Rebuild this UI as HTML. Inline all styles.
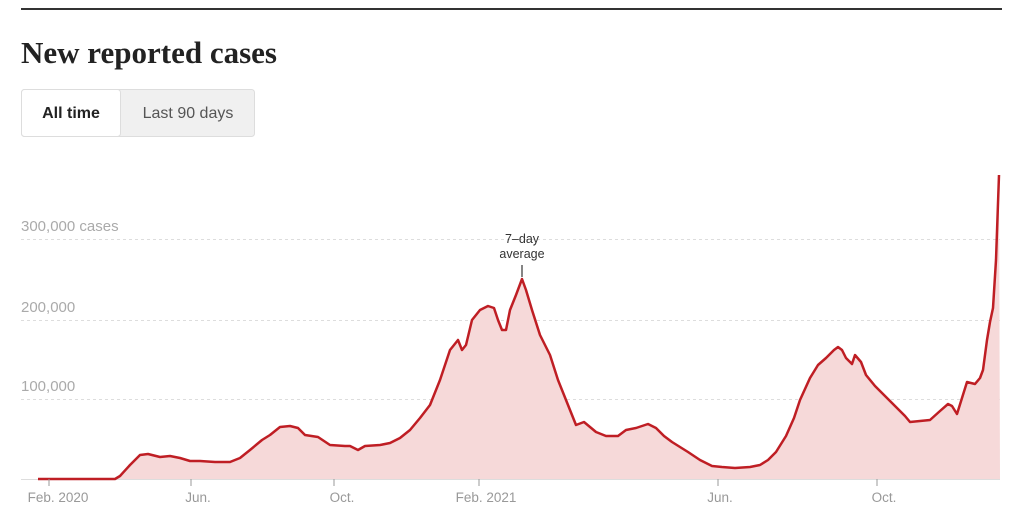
<!DOCTYPE html>
<html><head><meta charset="utf-8"><style>
body{margin:0;background:#fff;width:1024px;height:525px;overflow:hidden;font-family:"Liberation Sans",sans-serif}
</style></head><body>
<svg width="1024" height="525" xmlns="http://www.w3.org/2000/svg">
<rect x="21" y="8" width="981" height="2" fill="#333"/>
<text x="21" y="63" font-family="Liberation Serif,serif" font-weight="bold" font-size="31" fill="#222" textLength="256">New reported cases</text>
<rect x="21.5" y="89.5" width="233" height="47" rx="3" fill="#f0f0f0" stroke="#ddd"/>
<rect x="21.5" y="89.5" width="99" height="47" rx="3" fill="#fff" stroke="#ddd"/>
<text x="71" y="118" text-anchor="middle" font-size="16" font-weight="bold" fill="#222">All time</text>
<text x="188" y="118" text-anchor="middle" font-size="16" fill="#555">Last 90 days</text>
<g stroke="#ddd" stroke-dasharray="3,3" stroke-width="1">
<line x1="21" y1="239.5" x2="1000" y2="239.5"/>
<line x1="21" y1="320.5" x2="1000" y2="320.5"/>
<line x1="21" y1="399.5" x2="1000" y2="399.5"/>
</g>
<line x1="21" y1="479.5" x2="1000" y2="479.5" stroke="#ddd"/>
<g font-size="15" fill="#aaa">
<text x="21" y="231">300,000 cases</text>
<text x="21" y="312">200,000</text>
<text x="21" y="391">100,000</text>
</g>
<path d="M38,479 L115,479 L120,476 L130,465 L140,455 L148,454 L160,457 L170,456 L180,458 L190,461 L200,461 L215,462 L230,462 L240,458 L250,450 L262,440 L270,435 L280,427 L290,426 L298,428 L305,435 L318,437 L330,445 L345,446 L350,446 L358,450 L365,446 L380,445 L390,443 L400,438 L410,430 L420,418 L430,405 L440,380 L450,350 L458,340 L462,350 L466,345 L472,320 L480,310 L488,306 L494,308 L498,320 L502,330 L506,330 L510,310 L516,295 L522,279 L526,290 L532,310 L540,335 L550,355 L558,380 L566,400 L576,425 L584,422 L596,432 L606,436 L618,436 L626,430 L636,428 L648,424 L656,428 L664,436 L672,442 L688,452 L700,460 L712,466 L722,467 L735,468 L750,467 L760,465 L768,460 L776,452 L786,436 L794,418 L800,400 L810,378 L818,365 L826,358 L834,350 L838,347 L842,350 L846,358 L852,364 L855,355 L861,362 L866,375 L875,386 L885,396 L895,406 L905,416 L910,422 L920,421 L930,420 L940,411 L948,404 L952,406 L957,414 L962,398 L967,382 L975,384 L980,378 L983,370 L987,340 L990,322 L993,308 L996,260 L999,175 L1000,479 Z" fill="#f6d9d9"/>
<path d="M38,479 L115,479 L120,476 L130,465 L140,455 L148,454 L160,457 L170,456 L180,458 L190,461 L200,461 L215,462 L230,462 L240,458 L250,450 L262,440 L270,435 L280,427 L290,426 L298,428 L305,435 L318,437 L330,445 L345,446 L350,446 L358,450 L365,446 L380,445 L390,443 L400,438 L410,430 L420,418 L430,405 L440,380 L450,350 L458,340 L462,350 L466,345 L472,320 L480,310 L488,306 L494,308 L498,320 L502,330 L506,330 L510,310 L516,295 L522,279 L526,290 L532,310 L540,335 L550,355 L558,380 L566,400 L576,425 L584,422 L596,432 L606,436 L618,436 L626,430 L636,428 L648,424 L656,428 L664,436 L672,442 L688,452 L700,460 L712,466 L722,467 L735,468 L750,467 L760,465 L768,460 L776,452 L786,436 L794,418 L800,400 L810,378 L818,365 L826,358 L834,350 L838,347 L842,350 L846,358 L852,364 L855,355 L861,362 L866,375 L875,386 L885,396 L895,406 L905,416 L910,422 L920,421 L930,420 L940,411 L948,404 L952,406 L957,414 L962,398 L967,382 L975,384 L980,378 L983,370 L987,340 L990,322 L993,308 L996,260 L999,175" fill="none" stroke="#bf1e24" stroke-width="2.5" stroke-linejoin="round"/>
<g stroke="#999"><line x1="49" y1="479" x2="49" y2="486"/><line x1="191" y1="479" x2="191" y2="486"/><line x1="334" y1="479" x2="334" y2="486"/><line x1="479" y1="479" x2="479" y2="486"/><line x1="718" y1="479" x2="718" y2="486"/><line x1="877" y1="479" x2="877" y2="486"/></g>
<g font-size="13.5" fill="#999" text-anchor="middle">
<text x="58" y="502">Feb. 2020</text><text x="198" y="502">Jun.</text><text x="342" y="502">Oct.</text><text x="486" y="502">Feb. 2021</text><text x="720" y="502">Jun.</text><text x="884" y="502">Oct.</text>
</g>
<text x="522" y="243" text-anchor="middle" font-size="12.5" fill="#333">7–day</text>
<text x="522" y="258" text-anchor="middle" font-size="12.5" fill="#333">average</text>
<line x1="522" y1="265" x2="522" y2="277" stroke="#333" stroke-width="1.2"/>
</svg>
</body></html>
